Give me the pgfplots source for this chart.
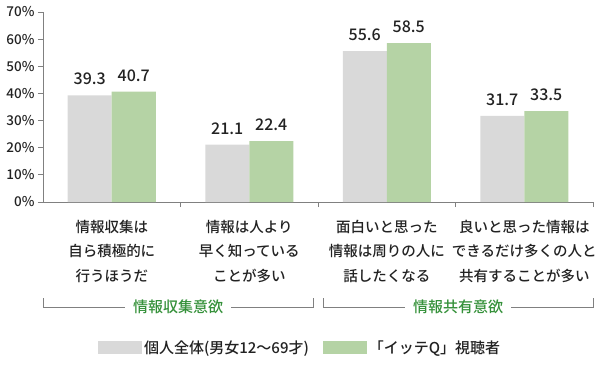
\documentclass[border=0pt]{standalone}
\usepackage{fontspec}
\setmainfont{Noto Sans CJK JP Medium}
\usepackage{pgfplots}
\pgfplotsset{compat=1.18}
\definecolor{gbar}{HTML}{D9D9D9}
\definecolor{gnbar}{HTML}{B5D3A5}
\definecolor{gtext}{HTML}{35913A}
\definecolor{axgray}{HTML}{808080}
\definecolor{txt}{HTML}{222222}
\begin{document}
\begin{tikzpicture}[x=1pt,y=1pt]
\useasboundingbox (0,0) rectangle (606,365);
\begin{axis}[
  at={(43pt,163pt)}, anchor=south west,
  scale only axis, width=550pt, height=190pt,
  xmin=-0.5, xmax=3.5, ymin=0, ymax=70,
  ybar, bar width=44pt,
  clip=false,
  axis x line*=bottom, axis y line*=left,
  axis line style={axgray, line width=0.8pt, -},
  ytick={0,10,...,70},
  yticklabel={\pgfmathprintnumber{\tick}\%},
  /pgf/number format/assume math mode=true,
  yticklabel style={font=\fontsize{13.5}{14}\selectfont, color=txt},
  tick align=outside, major tick length=5pt,
  tick style={axgray, line width=0.8pt},
  xtick={0.5,1.5,2.5,3.5}, xticklabels={},
  nodes near coords,
  every node near coord/.append style={font=\fontsize{16}{16}\selectfont, color=txt, anchor=south, inner sep=0pt, yshift=10pt},
  nodes near coords={\pgfmathprintnumber[fixed,fixed zerofill,precision=1]{\pgfplotspointmeta}},
  legend style={at={(0.4675,-0.768)}, anchor=center, draw=none, legend columns=2,
    font=\fontsize{15}{15}\selectfont, text=txt,
    /tikz/every even column/.append style={column sep=12pt}},
  legend image code/.code={\fill[#1] (0pt,-6.5pt) rectangle (44pt,6.5pt);},
]
\addplot[fill=gbar, draw=none, bar shift=-22pt] coordinates {(0,39.3) (1,21.1) (2,55.6) (3,31.7)};
\addplot[fill=gnbar, draw=none, bar shift=22pt] coordinates {(0,40.7) (1,22.4) (2,58.5) (3,33.5)};
\legend{個人全体(男女12～69才), 「イッテQ」視聴者}
\end{axis}
\begin{scope}[every node/.style={align=center, anchor=north, inner sep=0pt, font=\fontsize{14.5}{24.5}\selectfont, text=txt}]
\node at (111.75,145) {情報収集は\\自ら積極的に\\行うほうだ};
\node at (249.25,145) {情報は人より\\早く知っている\\ことが多い};
\node at (386.75,145) {面白いと思った\\情報は周りの人に\\話したくなる};
\node at (524.25,145) {良いと思った情報は\\できるだけ多くの人と\\共有することが多い};
\end{scope}
\draw[axgray, line width=0.8pt] (43,67) |- (313,58) -- (313,67);
\draw[axgray, line width=0.8pt] (323,67) |- (593,58) -- (593,67);
\node[fill=white, inner xsep=8pt, text=gtext, font=\fontsize{15}{15}\selectfont] at (178,58) {情報収集意欲};
\node[fill=white, inner xsep=8pt, text=gtext, font=\fontsize{15}{15}\selectfont] at (458,58) {情報共有意欲};
\end{tikzpicture}
\end{document}
